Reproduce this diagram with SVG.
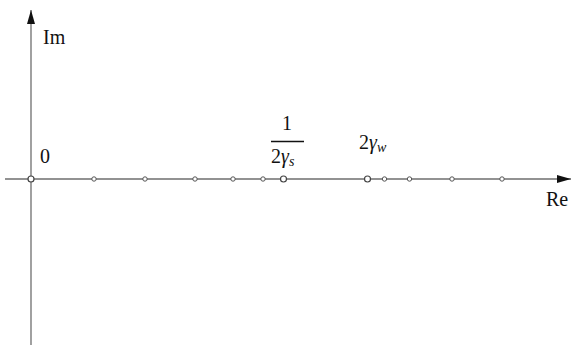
<svg xmlns="http://www.w3.org/2000/svg" width="575" height="345" viewBox="0 0 575 345">
<style>
.ax{stroke:#6e6e6e;stroke-width:1.3;fill:none}
.pt{fill:#fff;stroke:#555;stroke-width:1}
.big{fill:#fff;stroke:#444;stroke-width:1.2}
.lbl{font-family:'Liberation Serif','Times New Roman','DejaVu Serif',serif;font-size:20px;fill:#111}
.it{font-style:italic}
</style>
<defs>
<marker id="ah" markerWidth="14" markerHeight="8" refX="14" refY="4" orient="auto" markerUnits="userSpaceOnUse">
<path d="M0,0 L14,4 L0,8 Z" fill="#111"/>
</marker>
</defs>
<g id="connectors">
<line class="ax" x1="5" y1="179" x2="571" y2="179" marker-end="url(#ah)"/>
<line class="ax" x1="31" y1="345" x2="31" y2="10" marker-end="url(#ah)"/>
</g>
<g id="points">
<circle class="big" cx="31" cy="179" r="3"/>
<circle class="pt" cx="94" cy="179" r="2.2"/>
<circle class="pt" cx="145" cy="179" r="2.2"/>
<circle class="pt" cx="195" cy="179" r="2.2"/>
<circle class="pt" cx="233" cy="179" r="2.2"/>
<circle class="pt" cx="263" cy="179" r="2.2"/>
<circle class="big" cx="283.5" cy="179" r="3"/>
<circle class="big" cx="367.5" cy="179" r="3"/>
<circle class="pt" cx="384.5" cy="179" r="2.2"/>
<circle class="pt" cx="409.5" cy="179" r="2.2"/>
<circle class="pt" cx="452" cy="179" r="2.2"/>
<circle class="pt" cx="502" cy="179" r="2.2"/>
</g>
<g id="labels" font-family="Liberation Serif, serif">
<text class="lbl" x="43" y="44">Im</text>
<text class="lbl" x="40" y="163">0</text>
<text class="lbl" x="546" y="206">Re</text>
<text class="lbl" x="287" y="130" text-anchor="middle">1</text>
<line x1="271" y1="141.5" x2="304" y2="141.5" stroke="#111" stroke-width="1.3"/>
<text class="lbl" x="271" y="163">2<tspan class="it">γ</tspan><tspan class="it" font-size="14" dy="3">s</tspan></text>
<text class="lbl" x="359" y="149">2<tspan class="it">γ</tspan><tspan class="it" font-size="14" dy="3">w</tspan></text>
</g>
</svg>
